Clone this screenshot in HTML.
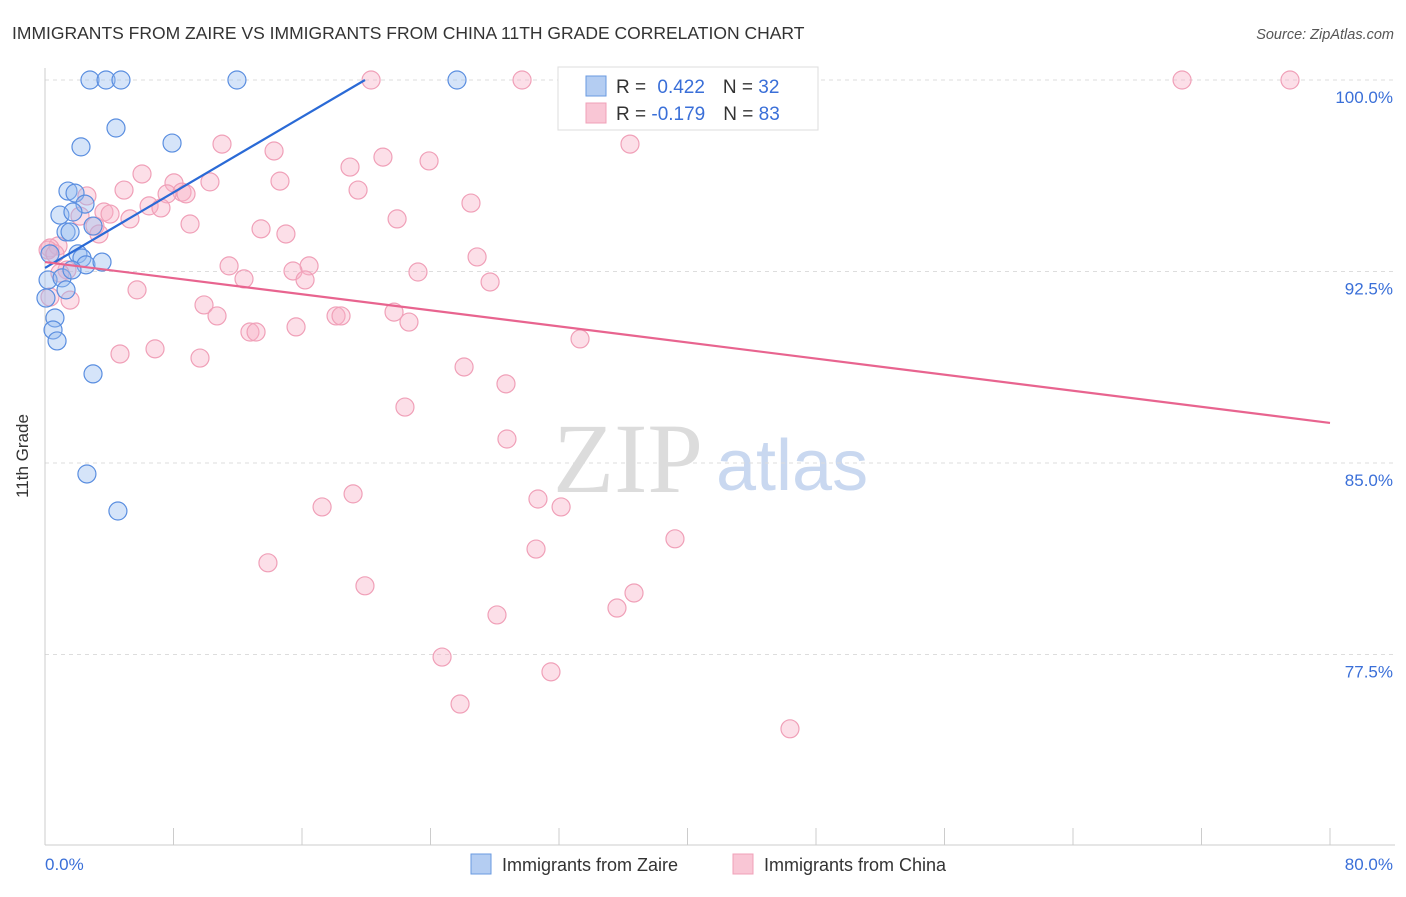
<!DOCTYPE html>
<html><head><meta charset="utf-8"><style>
body{margin:0;background:#fff;font-family:"Liberation Sans",sans-serif}
</style></head><body>
<svg width="1406" height="892" xmlns="http://www.w3.org/2000/svg">
<text x="12" y="39" font-size="17.5" fill="#333">IMMIGRANTS FROM ZAIRE VS IMMIGRANTS FROM CHINA 11TH GRADE CORRELATION CHART</text>
<text x="1394" y="39" font-size="14.5" fill="#555" font-style="italic" text-anchor="end">Source: ZipAtlas.com</text>
<g>
<text x="553" y="492" font-family="Liberation Serif,serif" font-size="100" fill="#dcdcdc">ZIP</text>
<text x="716" y="490" font-size="72" fill="#c9d8f0">atlas</text>
</g>
<g id="grid"></g>
<line x1="45" y1="68" x2="45" y2="845" stroke="#ccc"/>
<line x1="45" y1="845" x2="1395" y2="845" stroke="#ccc"/>
<g id="xticks"></g>
<text x="28" y="456" font-size="17" fill="#333" transform="rotate(-90 28 456)" text-anchor="middle">11th Grade</text>
<text x="45" y="870" font-size="17" fill="#3a6fd8">0.0%</text>
<text x="1393" y="870" font-size="17" fill="#3a6fd8" text-anchor="end">80.0%</text>
<g id="pts"></g>
<g id="lines"></g>
<g>
<rect x="558" y="67" width="260" height="63" fill="#fff" stroke="#ddd"/>
<rect x="586" y="76" width="20" height="20" fill="#b4cdf2" stroke="#6a9ae0"/>
<rect x="586" y="103" width="20" height="20" fill="#f9c6d5" stroke="#f0a0b8"/>
<text x="616" y="93" font-size="19" fill="#333">R = <tspan fill="#3a6fd8" dx="6">0.422</tspan><tspan dx="18" fill="#333">N = </tspan><tspan fill="#3a6fd8">32</tspan></text>
<text x="616" y="120" font-size="19" fill="#333">R = <tspan fill="#3a6fd8">-0.179</tspan><tspan dx="18" fill="#333">N = </tspan><tspan fill="#3a6fd8">83</tspan></text>
</g>
<g>
<rect x="471" y="854" width="20" height="20" fill="#b4cdf2" stroke="#6a9ae0"/>
<text x="502" y="871" font-size="18" fill="#333">Immigrants from Zaire</text>
<rect x="733" y="854" width="20" height="20" fill="#f9c6d5" stroke="#f0a0b8"/>
<text x="764" y="871" font-size="18" fill="#333">Immigrants from China</text>
</g>
</svg>
<script>
const yTicks=[100,92.5,85,77.5];
const yTickLabels=["100.0%","92.5%","85.0%","77.5%"];
const xTickVals=[0,8,16,24,32,40,48,56,64,72,80];
const zaireX=[2.80,3.80,4.73,11.95,25.65,4.42,7.91,2.24,1.43,1.87,2.49,0.93,1.74,2.99,1.31,1.56,2.05,2.30,2.55,3.55,0.31,0.19,1.06,1.31,0.62,0.50,0.75,2.99,2.61,4.54,0.06,1.68];
const zaireY=[100,100,100,100,100,98.12,97.53,97.38,95.65,95.57,95.14,94.71,94.83,94.28,94.05,94.05,93.19,93.03,92.76,92.87,93.19,92.17,92.25,91.78,90.68,90.21,89.78,88.49,84.57,83.12,91.46,92.56];
const chinaX=[32.94,29.70,20.30,70.79,77.51,36.42,11.02,14.26,21.04,23.91,18.99,6.04,14.63,8.03,10.27,4.92,8.53,8.78,7.60,19.49,2.61,6.48,7.22,3.67,4.05,26.52,5.29,3.11,9.03,13.45,21.92,15.00,3.36,0.81,0.31,26.90,11.46,16.44,15.44,23.22,12.39,16.19,27.71,5.73,1.37,0.93,9.90,10.71,18.12,18.43,21.73,22.66,15.63,12.76,13.14,33.31,4.67,6.85,9.65,26.09,28.70,22.41,28.76,19.18,17.25,30.69,32.13,39.22,30.57,13.88,19.92,36.67,35.61,28.14,24.72,31.50,25.84,46.38,0.31,0.19,2.18,0.62,1.56];
const chinaY=[100,100,100,100,100,97.49,97.49,97.22,96.98,96.83,96.59,96.32,96.04,95.97,96.01,95.69,95.61,95.54,95.54,95.69,95.46,95.07,94.99,94.83,94.75,95.18,94.56,94.28,94.36,94.17,94.56,93.97,93.97,93.50,93.42,93.07,92.72,92.72,92.52,92.48,92.21,92.17,92.09,91.78,92.56,92.44,91.19,90.76,90.76,90.76,90.91,90.52,90.33,90.13,90.13,89.86,89.27,89.47,89.11,88.76,88.10,87.19,85.94,83.79,83.28,83.59,83.28,82.03,81.63,81.09,80.19,79.91,79.32,79.05,77.40,76.82,75.56,74.59,91.50,93.34,94.67,93.19,91.38];
const zaireLineX=[0,19.92];
const zaireLineY=[92.64,100];
const chinaLineX=[0,80];
const chinaLineY=[92.87,86.57];
const sx=v=>45+v/80*1285;
const sy=v=>80+(100-v)/7.5*191.5;
const NS="http://www.w3.org/2000/svg";
function mk(t,a,p){const e=document.createElementNS(NS,t);for(const k in a)e.setAttribute(k,a[k]);p.appendChild(e);return e;}
const grid=document.getElementById('grid');
yTicks.forEach((v,i)=>{
 const l=mk('line',{x1:45,x2:1395,y1:sy(v),y2:sy(v),stroke:'#ddd','stroke-dasharray':'4,4'},grid);
 
 
 const t=mk('text',{x:1393,y:sy(v)+23,'font-size':17,fill:'#3a6fd8','text-anchor':'end'},grid);
 t.textContent=yTickLabels[i];
 
 
});
const xt=document.getElementById('xticks');
xTickVals.forEach(v=>{
 const l=mk('line',{x1:sx(v),x2:sx(v),y1:828,y2:845,stroke:'#ccc'},xt);
 
 
});
const pts=document.getElementById('pts');
chinaX.forEach((x,i)=>{
 const c=mk('circle',{cx:sx(x),cy:sy(chinaY[i]),r:9,fill:'rgba(248,176,198,0.4)',stroke:'#f0a0b8','stroke-width':1.2},pts);
 
 
});
zaireX.forEach((x,i)=>{
 const c=mk('circle',{cx:sx(x),cy:sy(zaireY[i]),r:9,fill:'rgba(150,188,240,0.4)',stroke:'#5a8ee0','stroke-width':1.2},pts);
 
 
});
const lg=document.getElementById('lines');
const l1=mk('line',{x1:sx(zaireLineX[0]),y1:sy(zaireLineY[0]),x2:sx(zaireLineX[1]),y2:sy(zaireLineY[1]),stroke:'#2a6ad6','stroke-width':2.2},lg);


const l2=mk('line',{x1:sx(chinaLineX[0]),y1:sy(chinaLineY[0]),x2:sx(chinaLineX[1]),y2:sy(chinaLineY[1]),stroke:'#e8648f','stroke-width':2.2},lg);


</script>
</body></html>
